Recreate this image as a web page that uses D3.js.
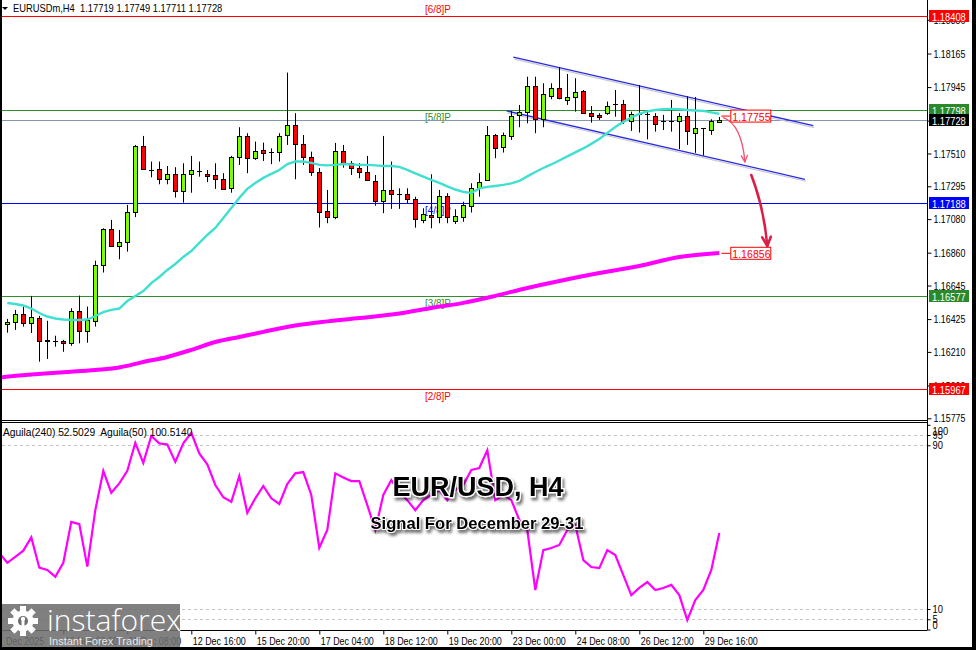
<!DOCTYPE html>
<html>
<head>
<meta charset="utf-8">
<script src="https://cdn.jsdelivr.net/npm/d3@7/dist/d3.min.js"></script>
<style>
  html, body { margin:0; padding:0; background:#ffffff; }
  svg { display:block; }
</style>
</head>
<body>
<svg id="chart" width="976" height="650"></svg>
<script>
// ---------------- DATA ----------------
const symbolTitle = "EURUSDm,H4  1.17719 1.17749 1.17711 1.17728";
const opens  = [1.16393,1.16404,1.16459,1.16397,1.16430,1.16283,1.16281,1.16281,1.16266,1.16476,
                1.16349,1.16414,1.16779,1.17014,1.16906,1.16932,1.17125,1.17557,1.17404,1.17407,
                1.17341,1.17374,1.17265,1.17374,1.17396,1.17376,1.17367,1.17341,1.17283,1.17485,
                1.17625,1.17479,1.17533,1.17518,1.17518,1.17628,1.17697,1.17571,1.17485,1.17389,
                1.17131,1.17093,1.17527,1.17450,1.17413,1.17387,1.17332,1.17201,1.17271,1.17243,
                1.17243,1.17210,1.17075,1.17107,1.17096,1.17232,1.17070,1.17096,1.17168,1.17282,
                1.17337,1.17628,1.17551,1.17625,1.17763,1.17780,1.17953,1.17736,1.17889,1.17937,
                1.17861,1.17882,1.17922,1.17778,1.17763,1.17778,1.17836,1.17833,1.17723,1.17767,
                1.17767,1.17758,1.17723,1.17723,1.17723,1.17758,1.17647,1.17674,1.17661,1.17719];
const highs  = [1.16426,1.16485,1.16507,1.16577,1.16446,1.16414,1.16316,1.16288,1.16496,1.16579,
                1.16507,1.16808,1.17020,1.17075,1.17009,1.17173,1.17566,1.17625,1.17457,1.17457,
                1.17428,1.17420,1.17446,1.17494,1.17457,1.17402,1.17446,1.17381,1.17494,1.17682,
                1.17643,1.17588,1.17581,1.17544,1.17643,1.18040,1.17774,1.17631,1.17522,1.17415,
                1.17271,1.17579,1.17566,1.17461,1.17446,1.17494,1.17369,1.17625,1.17457,1.17282,
                1.17282,1.17227,1.17151,1.17374,1.17271,1.17250,1.17145,1.17194,1.17315,1.17381,
                1.17690,1.17638,1.17647,1.17789,1.17828,1.18013,1.18013,1.17970,1.17970,1.18075,
                1.18031,1.18003,1.17926,1.17821,1.17774,1.17850,1.17926,1.17861,1.17784,1.17959,
                1.17795,1.17774,1.17763,1.17861,1.17774,1.17884,1.17880,1.17677,1.17734,1.17749];
const lows   = [1.16336,1.16354,1.16376,1.16334,1.16146,1.16164,1.16244,1.16211,1.16250,1.16266,
                1.16270,1.16376,1.16730,1.16900,1.16817,1.16867,1.17093,1.17402,1.17354,1.17308,
                1.17308,1.17221,1.17188,1.17253,1.17358,1.17322,1.17278,1.17271,1.17253,1.17435,
                1.17381,1.17468,1.17461,1.17440,1.17457,1.17566,1.17341,1.17435,1.17363,1.17025,
                1.17053,1.17080,1.17417,1.17369,1.17348,1.17332,1.17168,1.17119,1.17147,1.17147,
                1.17179,1.17024,1.17053,1.17020,1.17053,1.17053,1.17048,1.17063,1.17123,1.17227,
                1.17332,1.17479,1.17516,1.17599,1.17682,1.17708,1.17643,1.17682,1.17865,1.17865,
                1.17828,1.17784,1.17769,1.17712,1.17730,1.17763,1.17751,1.17704,1.17658,1.17647,
                1.17603,1.17653,1.17664,1.17653,1.17538,1.17566,1.17514,1.17497,1.17632,1.17711];
const closes = [1.16408,1.16459,1.16397,1.16437,1.16283,1.16285,1.16281,1.16266,1.16476,1.16349,
                1.16417,1.16779,1.17014,1.16904,1.16932,1.17125,1.17557,1.17407,1.17404,1.17341,
                1.17374,1.17265,1.17374,1.17400,1.17396,1.17363,1.17341,1.17280,1.17485,1.17625,
                1.17479,1.17529,1.17512,1.17518,1.17625,1.17697,1.17571,1.17487,1.17389,1.17124,
                1.17093,1.17527,1.17446,1.17413,1.17387,1.17337,1.17201,1.17271,1.17243,1.17243,
                1.17210,1.17079,1.17114,1.17096,1.17232,1.17093,1.17101,1.17173,1.17282,1.17326,
                1.17628,1.17544,1.17628,1.17754,1.17780,1.17953,1.17736,1.17898,1.17937,1.17872,
                1.17882,1.17915,1.17774,1.17758,1.17747,1.17823,1.17836,1.17723,1.17767,1.17767,
                1.17767,1.17704,1.17723,1.17723,1.17758,1.17658,1.17675,1.17674,1.17720,1.17728];

// fast moving average (cyan), one value per candle
const maFast = [1.16530,1.16524,1.16514,1.16494,1.16465,1.16442,1.16429,1.16422,1.16419,1.16419,
                1.16422,1.16445,1.16471,1.16485,1.16494,1.16543,1.16576,1.16609,1.16661,1.16701,
                1.16747,1.16786,1.16832,1.16871,1.16924,1.16976,1.17022,1.17088,1.17153,1.17219,
                1.17278,1.17317,1.17350,1.17376,1.17402,1.17441,1.17457,1.17457,1.17448,1.17435,
                1.17432,1.17435,1.17441,1.17438,1.17435,1.17435,1.17432,1.17428,1.17428,1.17422,
                1.17402,1.17379,1.17358,1.17337,1.17317,1.17294,1.17274,1.17258,1.17251,1.17281,
                1.17291,1.17297,1.17304,1.17314,1.17330,1.17360,1.17389,1.17415,1.17438,1.17464,
                1.17491,1.17517,1.17543,1.17573,1.17605,1.17645,1.17684,1.17717,1.17746,1.17769,
                1.17786,1.17795,1.17800,1.17802,1.17800,1.17795,1.17792,1.17789,1.17779,1.17769];

// slow moving average (magenta), read at these candle indices
const maSlowIdx = [-1,3,7,11,14,17,20,23,26,29,32,36,40,44,49,53,57,61,65,69,74,79,84,89];
const maSlow    = [1.16043,1.16062,1.16077,1.16092,1.16108,1.16144,1.16177,1.16223,1.16275,1.16308,
                   1.16341,1.16383,1.16410,1.16432,1.16462,1.16498,1.16531,1.16577,1.16629,1.16675,
                   1.16727,1.16773,1.16832,1.16858];

// Aguila oscillator, indices -1 .. 89
const aguila = [37.3,
  32.6,35.5,38.5,45.0,30.2,29.1,25.8,32.6,52.6,51.5,
  30.7,58.3,77.5,66.8,71.4,77.5,91.2,81.4,94.5,90.9,
  90.4,81.9,90.9,96.1,86.0,80.7,70.6,64.6,62.4,75.0,
  57.0,64.1,70.1,64.1,61.3,71.0,76.3,76.9,65.7,39.9,
  48.6,76.3,74.3,72.5,72.5,60.8,48.6,65.7,73.0,67.1,
  63.2,58.3,63.2,65.7,68.1,63.2,68.1,70.6,77.9,78.9,
  87.6,63.2,65.7,63.2,53.5,48.6,19.3,38.8,39.8,41.3,
  48.6,51.0,33.9,30.5,30.0,38.8,36.4,26.6,16.8,20.3,
  23.2,19.3,20.3,21.8,16.8,4.6,14.4,19.3,29.1,47.1];
const aguilaLegend = "Aguila(240) 52.5029  Aguila(50) 100.5140";

// Murrey math levels
const levelPrices = [1.18408, 1.17798, 1.17188, 1.16577, 1.15967];
const levelNames  = ["[6/8]P", "[5/8]P", "[4/8]P", "[3/8]P", "[2/8]P"];
const bidPrice = 1.17728;

// channel lines: [startIndex, startPrice, endIndex, endPrice]
const channelUpper = [63.25, 1.18141, 100.75, 1.17692];
const channelLower = [62.4, 1.17789, 99.7, 1.17341];

// targets
const targetPrices = [1.17755, 1.16856];

// axis ticks
const priceTicks = [1.18386,1.18165,1.17945,1.17725,1.17510,1.17295,1.17080,1.16860,1.16645,1.16425,1.16210,1.15990,1.15775];
const indTicks = [100, 95, 90, 10, 5, 0];
const indLevels = [95, 90, 10, 5];
const xTickIdx = [7,15,23,31,39,47,55,63,71,79,87];
const xTickLabels = ["10 Dec 00:00","11 Dec 08:00","12 Dec 16:00","15 Dec 20:00","17 Dec 04:00","18 Dec 12:00","19 Dec 20:00","23 Dec 00:00","24 Dec 08:00","26 Dec 12:00","29 Dec 16:00"];
const firstDateLabel = "Dec 2025";

const titleText = "EUR/USD, H4";
const subtitleText = "Signal For December 29-31";

// ---------------- DRAW ----------------
const FONT = '"Liberation Sans",Arial,sans-serif';
const svg = d3.select("#chart").style("font-family", FONT);

const L = 2, R = 927, mainBot = 420.5, indTop = 422.5, indBot = 630.5;

const x  = d3.scaleLinear().domain([0, 89]).range([7.3, 719.3]);
const y  = d3.scaleLinear().domain([1.15775, 1.18165]).range([418.3, 53.5]);
const yi = d3.scaleLinear().domain([0, 100]).range([629.5, 424.8]);
const px = v => Math.round(v) + 0.5;

// horizontally condense a text selection (MT4-like narrow UI font)
function condense(sel, f) {
  sel.each(function () {
    const l = this.getComputedTextLength();
    if (l > 0) {
      this.setAttribute("textLength", (l * f).toFixed(2));
      this.setAttribute("lengthAdjust", "spacingAndGlyphs");
    }
  });
  return sel;
}

svg.append("rect").attr("width", 976).attr("height", 650).attr("fill", "#ffffff");

const defs = svg.append("defs");
defs.append("clipPath").attr("id", "clipMain").append("rect")
  .attr("x", L).attr("y", 0).attr("width", R - L).attr("height", mainBot);
defs.append("clipPath").attr("id", "clipInd").append("rect")
  .attr("x", L).attr("y", indTop).attr("width", R - L).attr("height", indBot - indTop);
const sh = defs.append("filter").attr("id", "shadow")
  .attr("x", "-10%").attr("y", "-40%").attr("width", "130%").attr("height", "190%");
sh.append("feGaussianBlur").attr("in", "SourceAlpha").attr("stdDeviation", 1.5).attr("result", "b");
sh.append("feOffset").attr("in", "b").attr("dx", 2).attr("dy", 3).attr("result", "o");
sh.append("feComponentTransfer").attr("in", "o").attr("result", "s")
  .append("feFuncA").attr("type", "linear").attr("slope", 0.55);
const mg = sh.append("feMerge");
mg.append("feMergeNode").attr("in", "s");
mg.append("feMergeNode").attr("in", "SourceGraphic");

const gMain = svg.append("g").attr("clip-path", "url(#clipMain)");

// level lines
const levelColors = ["#ff0000", "#2f8f2f", "#0000ff", "#2f8f2f", "#ff0000"];
levelPrices.forEach((p, i) => {
  const yy = px(y(p));
  gMain.append("line").attr("x1", L).attr("x2", R).attr("y1", yy).attr("y2", yy)
    .attr("stroke", levelColors[i]).attr("stroke-width", 1);
  const t = gMain.append("text").attr("x", x(52.2)).attr("y", i === 0 ? yy - 4 : yy + 10)
    .attr("font-size", 11).attr("fill", levelColors[i]).text(levelNames[i]);
  condense(t, 0.9);
});
// bid line
gMain.append("line").attr("x1", L).attr("x2", R).attr("y1", px(y(bidPrice))).attr("y2", px(y(bidPrice)))
  .attr("stroke", "#8797ab").attr("stroke-width", 1);

// channel
[channelUpper, channelLower].forEach(c => {
  gMain.append("line").attr("x1", x(c[0])+1).attr("y1", y(c[1])+2).attr("x2", x(c[2])+1).attr("y2", y(c[3])+2)
    .attr("stroke", "#c8c8d0").attr("stroke-width", 1.2);
  gMain.append("line").attr("x1", x(c[0])).attr("y1", y(c[1])).attr("x2", x(c[2])).attr("y2", y(c[3]))
    .attr("stroke", "#2828e6").attr("stroke-width", 1.3);
});

// candles
const idx = d3.range(opens.length);
const gC = gMain.append("g");
idx.forEach(i => {
  const cx = px(x(i));
  gC.append("line").attr("x1", cx).attr("x2", cx).attr("y1", y(highs[i])).attr("y2", y(lows[i]))
    .attr("stroke", "#000").attr("stroke-width", 1);
  const o = opens[i], c = closes[i];
  const top = Math.round(y(Math.max(o, c))), bot = Math.round(y(Math.min(o, c)));
  if (bot - top < 1) {
    gC.append("line").attr("x1", cx - 2.5).attr("x2", cx + 2.5).attr("y1", top + 0.5).attr("y2", top + 0.5)
      .attr("stroke", "#000").attr("stroke-width", 1);
  } else {
    gC.append("rect").attr("x", cx - 2).attr("y", top + 0.5).attr("width", 4).attr("height", bot - top)
      .attr("fill", c > o ? "#7cfc00" : "#ff0000").attr("stroke", "#000").attr("stroke-width", 1);
  }
});

// moving averages
gMain.append("path").datum(idx)
  .attr("d", d3.line().x(i => x(i)).y(i => y(maFast[i])))
  .attr("fill", "none").attr("stroke", "#40e0d0").attr("stroke-width", 2.4);
gMain.append("path").datum(maSlowIdx.map((k, j) => [k, maSlow[j]]))
  .attr("d", d3.line().x(d => x(d[0])).y(d => y(d[1])).curve(d3.curveMonotoneX))
  .attr("fill", "none").attr("stroke", "#ff00ff").attr("stroke-width", 4);

// targets / annotations
const tX = x(89);
targetPrices.forEach(p => {
  const yy = y(p);
  gMain.append("line").attr("x1", tX + 2).attr("x2", tX + 11).attr("y1", yy).attr("y2", yy)
    .attr("stroke", "#ff0000").attr("stroke-width", 1);
  gMain.append("rect").attr("x", tX + 11.5).attr("y", yy - 6).attr("width", 40).attr("height", 12)
    .attr("fill", "#fff").attr("stroke", "#ff0000").attr("stroke-width", 1);
  const t = gMain.append("text").attr("x", tX + 13).attr("y", yy + 4.5).attr("font-size", 11.5)
    .attr("fill", "#ff0000").text(d3.format(".5f")(p));
  condense(t, 0.92);
});
// curved arrows
function arrow(g, x0, y0, cx, cy, x1, y1, color, w, head) {
  g.append("path").attr("d", `M${x0},${y0} Q${cx},${cy} ${x1},${y1}`)
    .attr("fill", "none").attr("stroke", color).attr("stroke-width", w).attr("stroke-linecap", "round");
  const ang = Math.atan2(y1 - cy, x1 - cx);
  const a1 = ang + Math.PI - 0.45, a2 = ang + Math.PI + 0.45;
  g.append("path").attr("d", `M${x1 + head*Math.cos(a1)},${y1 + head*Math.sin(a1)} L${x1},${y1} L${x1 + head*Math.cos(a2)},${y1 + head*Math.sin(a2)}`)
    .attr("fill", "none").attr("stroke", color).attr("stroke-width", w).attr("stroke-linejoin", "round").attr("stroke-linecap", "round");
}
arrow(gMain, x(89) + 4, y(1.17745), x(91.8), y(1.17700), x(92.2), y(1.17455), "#f0506e", 1.3, 7);
arrow(gMain, x(93.0), y(1.17369), x(94.6), y(1.17150), x(95.0), y(1.16904), "#dc1e46", 2.6, 10);

// indicator panel
const gInd = svg.append("g").attr("clip-path", "url(#clipInd)");
indLevels.forEach(v => {
  gInd.append("line").attr("x1", L).attr("x2", R).attr("y1", px(yi(v))).attr("y2", px(yi(v)))
    .attr("stroke", "#c4c4c4").attr("stroke-width", 1).attr("stroke-dasharray", "3,3");
});
gInd.append("path").datum(aguila.map((v, j) => [j - 1, v]))
  .attr("d", d3.line().x(d => x(d[0])).y(d => yi(d[1])))
  .attr("fill", "none").attr("stroke", "#ff00ff").attr("stroke-width", 2.2);
condense(svg.append("text").attr("x", 3).attr("y", 436).attr("font-size", 11).attr("fill", "#000")
  .attr("xml:space", "preserve").style("white-space", "pre").text(aguilaLegend), 0.93);

// frame lines
svg.append("line").attr("x1", L).attr("x2", R).attr("y1", mainBot).attr("y2", mainBot).attr("stroke", "#000");
svg.append("line").attr("x1", L).attr("x2", R).attr("y1", indTop).attr("y2", indTop).attr("stroke", "#000");
svg.append("line").attr("x1", L).attr("x2", R).attr("y1", indBot).attr("y2", indBot).attr("stroke", "#000");
svg.append("line").attr("x1", R + 0.5).attr("x2", R + 0.5).attr("y1", 0).attr("y2", indBot).attr("stroke", "#000");

// price axis
const ay = svg.append("g").attr("transform", `translate(${R + 0.5},0)`)
  .call(d3.axisRight(y).tickValues(priceTicks).tickFormat(d3.format(".5f")).tickSize(4).tickPadding(2));
ay.select(".domain").remove();
condense(ay.selectAll("text").attr("font-size", 11).attr("font-family", FONT).attr("fill", "#000"), 0.8);

// indicator axis
const ai = svg.append("g").attr("transform", `translate(${R + 0.5},0)`)
  .call(d3.axisRight(yi).tickValues(indTicks).tickSize(3).tickPadding(2));
ai.select(".domain").remove();
condense(ai.selectAll("text").attr("font-size", 11).attr("font-family", FONT).attr("fill", "#000"), 0.85);
ai.selectAll(".tick").filter(d => d === 100).select("text").attr("dy", "0.9em");
ai.selectAll(".tick").filter(d => d === 0).select("text").attr("dy", "-0.05em");

// time axis
const ax = svg.append("g").attr("transform", `translate(0,${indBot})`)
  .call(d3.axisBottom(x).tickValues(xTickIdx).tickFormat((d, i) => xTickLabels[i]).tickSize(4).tickPadding(3));
ax.select(".domain").remove();
ax.selectAll("text").attr("font-size", 11).attr("font-family", FONT).attr("fill", "#000")
  .attr("text-anchor", "start").attr("dx", 1);
condense(ax.selectAll("text"), 0.81);
condense(svg.append("text").attr("x", 6).attr("y", 645).attr("font-size", 11).text(firstDateLabel), 0.81);

// price labels (boxes)
const labelColors = ["#ff0000", "#2a8a2a", "#0000ff", "#2a8a2a", "#ff0000"];
const boxes = levelPrices.map((p, i) => ({p, c: labelColors[i]})).concat([{p: bidPrice, c: "#000000"}]);
boxes.forEach(b => {
  const yy = Math.round(y(b.p));
  svg.append("rect").attr("x", 929).attr("y", yy - 6).attr("width", 40).attr("height", 12).attr("fill", b.c);
  condense(svg.append("text").attr("x", 932).attr("y", yy + 4.5).attr("font-size", 11).attr("fill", "#fff")
    .text(d3.format(".5f")(b.p)), 0.85);
});

// header
svg.append("path").attr("d", "M2,7 L8,7 L5,10 Z").attr("fill", "#000");
condense(svg.append("text").attr("x", 13).attr("y", 12).attr("font-size", 11).attr("fill", "#000")
  .attr("xml:space", "preserve").style("white-space", "pre").text(symbolTitle), 0.85);

// title texts
svg.append("text").attr("x", 478).attr("y", 496).attr("text-anchor", "middle")
  .attr("font-family", '"Liberation Sans",Arial,sans-serif').attr("font-weight", "bold").attr("font-size", 27)
  .attr("fill", "#000").attr("stroke", "#fff").attr("stroke-width", 2.5).attr("paint-order", "stroke")
  .attr("filter", "url(#shadow)").text(titleText);
svg.append("text").attr("x", 477).attr("y", 529).attr("text-anchor", "middle")
  .attr("font-family", '"Liberation Sans",Arial,sans-serif').attr("font-weight", "bold").attr("font-size", 16.6)
  .attr("fill", "#000").attr("stroke", "#fff").attr("stroke-width", 2).attr("paint-order", "stroke")
  .attr("filter", "url(#shadow)").text(subtitleText);

// logo
const lg = svg.append("g");
lg.append("rect").attr("x", 0).attr("y", 604).attr("width", 180).attr("height", 46).attr("fill", "#6e6e6e").attr("opacity", 0.88);
const gear = lg.append("g").attr("transform", "translate(23,621)");
d3.range(8).forEach(k => {
  gear.append("rect").attr("x", -3).attr("y", -15).attr("width", 6).attr("height", 8).attr("fill", "#fff")
    .attr("transform", `rotate(${k * 45})`);
});
gear.append("circle").attr("r", 10.5).attr("fill", "#fff");
gear.append("circle").attr("r", 5).attr("fill", "#6e6e6e");
gear.append("circle").attr("cy", -2).attr("r", 2.2).attr("fill", "#fff");
gear.append("rect").attr("x", -1.5).attr("y", 0).attr("width", 3).attr("height", 8).attr("fill", "#fff");
lg.append("text").attr("x", 47).attr("y", 631).attr("font-family", '"Open Sans",sans-serif').attr("font-weight", 300)
  .attr("font-size", 30).attr("fill", "#fff").text("instaforex");
lg.append("text").attr("x", 49).attr("y", 645).attr("font-family", '"Liberation Sans",sans-serif')
  .attr("font-size", 11).attr("fill", "#e8e8e8").text("Instant Forex Trading");

// outer black borders
svg.append("rect").attr("x", 0).attr("y", 0).attr("width", 2).attr("height", 650).attr("fill", "#000");
svg.append("rect").attr("x", 972).attr("y", 0).attr("width", 4).attr("height", 650).attr("fill", "#000");
svg.append("rect").attr("x", 0).attr("y", 647).attr("width", 976).attr("height", 3).attr("fill", "#000");
</script>
</body>
</html>
